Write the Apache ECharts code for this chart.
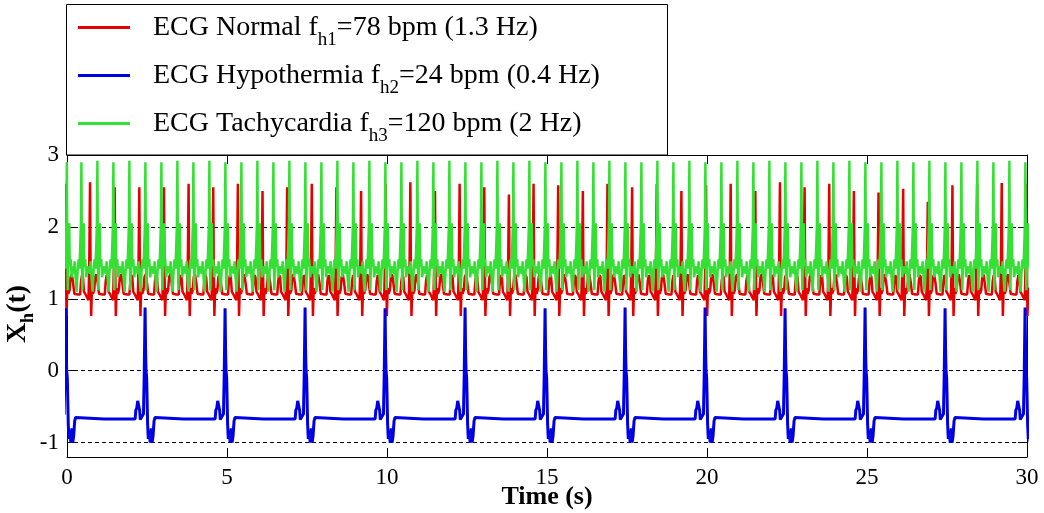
<!DOCTYPE html>
<html>
<head>
<meta charset="utf-8">
<script src="https://cdn.jsdelivr.net/npm/echarts@6/dist/echarts.min.js"></script>
<style>
html,body{margin:0;padding:0;background:#fff;}
#chart{width:1044px;height:513px;}
</style>
</head>
<body>
<div id="chart"></div>
<script>
// ---- tick labels ----
const xTickValues = [0, 5, 10, 15, 20, 25, 30];
const yTickValues = [-1, 0, 1, 2, 3];

// ---- legend names ----
const seriesNames = ['normal', 'hypo', 'tachy'];

// ---- ECG Normal (1.3 Hz): R-peak times and heights ----
const redBeatTimes = [-0.05, 0.72, 1.49, 2.26, 3.03, 3.80, 4.57, 5.34, 6.11, 6.88, 7.65, 8.42, 9.19, 9.96,
  10.73, 11.50, 12.27, 13.04, 13.81, 14.58, 15.35, 16.12, 16.89, 17.66, 18.43, 19.20, 19.97, 20.74,
  21.51, 22.28, 23.05, 23.82, 24.59, 25.36, 26.13, 26.90, 27.67, 28.44, 29.21, 29.98];
const redPeaks = [2.6, 2.62, 2.55, 2.55, 2.55, 2.6, 2.55, 2.6, 2.5, 2.55, 2.6, 2.55, 2.5, 2.6,
  2.62, 2.5, 2.6, 2.55, 2.45, 2.6, 2.58, 2.5, 2.6, 2.55, 2.6, 2.5, 2.58, 2.6,
  2.5, 2.62, 2.55, 2.6, 2.5, 2.48, 2.53, 2.35, 2.58, 2.6, 2.61, 2.6];
// one beat, offsets (s) from R peak (R value replaced by redPeaks)
const redBeatOffsets = [-0.38, -0.31, -0.28, -0.25, -0.22, -0.19, -0.15, -0.09, -0.05, -0.025, 0, 0.015, 0.035, 0.06, 0.09, 0.13, 0.16, 0.2, 0.24, 0.28, 0.33];
const redBeatValues  = [1.06, 1.06, 1.25, 1.33, 1.3, 1.1, 1.07, 1.07, 0.98, 1.45, 2.6, 1.5, 0.76, 1.15, 1.07, 1.12, 1.3, 1.34, 1.22, 1.07, 1.06];

// ---- ECG Hypothermia (0.4 Hz) ----
const blueBeatTimes = [-0.04, 2.44, 4.94, 7.44, 9.94, 12.44, 14.94, 17.44, 19.94, 22.44, 24.94, 27.44, 29.94];
const bluePeaks = [0.87, 0.88, 0.87, 0.88, 0.87, 0.88, 0.87, 0.88, 0.88, 0.87, 0.88, 0.87, 0.88];
const blueBeatOffsets = [-1.2, -0.31, -0.29, -0.26, -0.23, -0.2, -0.17, -0.15, -0.09, -0.05, -0.025, 0, 0.015, 0.03, 0.05, 0.08, 0.1, 0.13, 0.16, 0.19, 0.22, 0.25, 0.28, 0.31, 1.2];
const blueBeatValues  = [-0.67, -0.67, -0.55, -0.52, -0.42, -0.44, -0.55, -0.68, -0.7, -0.6, 0.0, 0.87, 0.3, 0.0, -0.1, -0.75, -0.95, -0.85, -1.0, -0.8, -1.0, -0.9, -0.7, -0.65, -0.67];

// ---- ECG Tachycardia (2 Hz) ----
const greenBeatTimes = [-0.005, 0.45, 0.95, 1.45, 1.95, 2.45, 2.95, 3.45, 3.95, 4.45, 4.95, 5.45, 5.95, 6.45, 6.95,
  7.45, 7.95, 8.45, 8.95, 9.45, 9.95, 10.45, 10.95, 11.45, 11.95, 12.45, 12.95, 13.45, 13.95, 14.45,
  14.95, 15.45, 15.95, 16.45, 16.95, 17.45, 17.95, 18.45, 18.95, 19.45, 19.95, 20.45, 20.95, 21.45,
  21.95, 22.45, 22.95, 23.45, 23.95, 24.45, 24.95, 25.45, 25.95, 26.45, 26.95, 27.45, 27.95, 28.45,
  28.95, 29.45, 29.95];
const greenPeaks = [2.9, 2.9, 2.92, 2.9, 2.92, 2.9, 2.9, 2.92, 2.9, 2.92, 2.9, 2.9, 2.92, 2.9, 2.92,
  2.9, 2.9, 2.92, 2.9, 2.92, 2.9, 2.9, 2.92, 2.9, 2.92, 2.9, 2.9, 2.92, 2.9, 2.92,
  2.9, 2.9, 2.92, 2.9, 2.92, 2.9, 2.9, 2.92, 2.9, 2.92, 2.9, 2.9, 2.92, 2.9, 2.92,
  2.9, 2.9, 2.92, 2.9, 2.92, 2.9, 2.9, 2.92, 2.9, 2.92, 2.9, 2.9, 2.92, 2.9, 2.92, 2.9];
const greenBeatOffsets = [-0.24, -0.21, -0.18, -0.15, -0.12, -0.09, -0.06, -0.035, -0.015, 0, 0.015, 0.03, 0.05, 0.075, 0.09, 0.12, 0.15, 0.19, 0.23];
const greenBeatValues  = [1.35, 1.52, 1.28, 1.1, 1.38, 1.55, 1.42, 1.75, 2.05, 2.9, 1.6, 1.12, 1.55, 2.05, 1.45, 1.55, 1.3, 1.45, 1.4];

function buildSeries(times, peaks, offsets, values) {
  const rIdx = offsets.indexOf(0);
  const out = [];
  times.forEach(function (t, i) {
    offsets.forEach(function (o, j) {
      out.push([+(t + o).toFixed(4), j === rIdx ? peaks[i] : values[j]]);
    });
  });
  return out;
}

const redData = buildSeries(redBeatTimes, redPeaks, redBeatOffsets, redBeatValues);
const blueData = buildSeries(blueBeatTimes, bluePeaks, blueBeatOffsets, blueBeatValues);
const greenData = buildSeries(greenBeatTimes, greenPeaks, greenBeatOffsets, greenBeatValues);

const SERIF = "'Liberation Serif', 'Times New Roman', serif";
const legendText = {
  normal: '{p|ECG Normal f}{s|h1}{a|=78 bpm (1.3 Hz)}',
  hypo: '{p|ECG Hypothermia f}{s|h2}{a|=24 bpm (0.4 Hz)}',
  tachy: '{p|ECG Tachycardia f}{s|h3}{a|=120 bpm (2 Hz)}'
};
const colors = {normal: '#e60000', hypo: '#0000e6', tachy: '#33e033'};

const chart = echarts.init(document.getElementById('chart'), null, {renderer: 'canvas'});
const axisCommonY = {
  type: 'value', min: -1.2, max: 3,
  axisLine: {show: true, onZero: false, lineStyle: {color: '#000', width: 1}},
  axisTick: {show: true, inside: true, length: 9, customValues: yTickValues, lineStyle: {color: '#000'}},
};
const axisCommonX = {
  type: 'value', min: 0, max: 30, interval: 5,
  axisLine: {show: true, onZero: false, lineStyle: {color: '#000', width: 1}},
  axisTick: {show: true, inside: true, length: 9, lineStyle: {color: '#000'}},
};
chart.setOption({
  animation: false,
  backgroundColor: '#fff',
  grid: {left: 67, right: 17, top: 155, bottom: 56, outerBoundsMode: 'none', containLabel: false},
  graphic: [{
    type: 'rect', z: 1,
    shape: {x: 66.5, y: 4.5, width: 601, height: 150.5},
    style: {fill: '#fff', stroke: '#000', lineWidth: 1}
  }],
  legend: {
    orient: 'vertical', left: 66, top: 4,
    padding: [1, 10, 2, 12], itemGap: 3,
    itemWidth: 52, itemHeight: 3,
    data: seriesNames.map(function (n) {
      return {name: n, icon: 'rect', itemStyle: {color: colors[n]}};
    }),
    formatter: function (n) { return legendText[n]; },
    textStyle: {
      rich: {
        p: {fontFamily: SERIF, fontSize: 28, color: '#000', lineHeight: 30, padding: [0, 0, 0, 18]},
        a: {fontFamily: SERIF, fontSize: 28, color: '#000', lineHeight: 30},
        s: {fontFamily: SERIF, fontSize: 19, color: '#000', lineHeight: 19, padding: [26, 0, 0, 0]}
      }
    }
  },
  xAxis: [
    Object.assign({}, axisCommonX, {
      position: 'bottom',
      name: 'Time (s)', nameLocation: 'middle', nameGap: 27, nameMoveOverlap: false,
      nameTextStyle: {fontFamily: SERIF, fontSize: 26, fontWeight: 'bold', color: '#000', verticalAlign: 'top'},
      axisLabel: {show: true, margin: 9, fontFamily: SERIF, fontSize: 23, color: '#000',
        formatter: function (v) { return xTickValues.indexOf(v) >= 0 ? String(v) : ''; }},
      splitLine: {show: false}
    }),
    Object.assign({}, axisCommonX, {
      position: 'top', axisLabel: {show: false}, splitLine: {show: false}
    })
  ],
  yAxis: [
    Object.assign({}, axisCommonY, {
      position: 'left',
      name: '{m|X}{s|h}{e|(t)}', nameLocation: 'middle', nameGap: 34, nameMoveOverlap: false,
      nameTextStyle: {
        rich: {
          m: {fontFamily: SERIF, fontSize: 28, fontWeight: 'bold', color: '#000', lineHeight: 30},
          e: {fontFamily: SERIF, fontSize: 28, fontWeight: 'bold', color: '#000', lineHeight: 30, padding: [0, 16, 0, 0]},
          s: {fontFamily: SERIF, fontSize: 18, fontWeight: 'bold', color: '#000', lineHeight: 18, padding: [20, 0, 0, 0]}
        }
      },
      axisLabel: {show: true, margin: 8, fontFamily: SERIF, fontSize: 23, color: '#000', customValues: yTickValues,
        formatter: function (v) { return String(v); }},
      splitLine: {show: true, lineStyle: {color: '#000', type: [4, 3], width: 1}}
    }),
    Object.assign({}, axisCommonY, {
      position: 'right', axisLabel: {show: false}, splitLine: {show: false}
    })
  ],
  series: [
    {name: 'normal', type: 'line', data: redData, symbol: 'none', clip: true,
      lineStyle: {color: colors.normal, width: 2.5}, itemStyle: {color: colors.normal}, z: 2},
    {name: 'hypo', type: 'line', data: blueData, symbol: 'none', clip: true,
      lineStyle: {color: colors.hypo, width: 3}, itemStyle: {color: colors.hypo}, z: 2},
    {name: 'tachy', type: 'line', data: greenData, symbol: 'none', clip: true,
      lineStyle: {color: colors.tachy, width: 2.5}, itemStyle: {color: colors.tachy}, z: 2}
  ]
});
</script>
</body>
</html>
